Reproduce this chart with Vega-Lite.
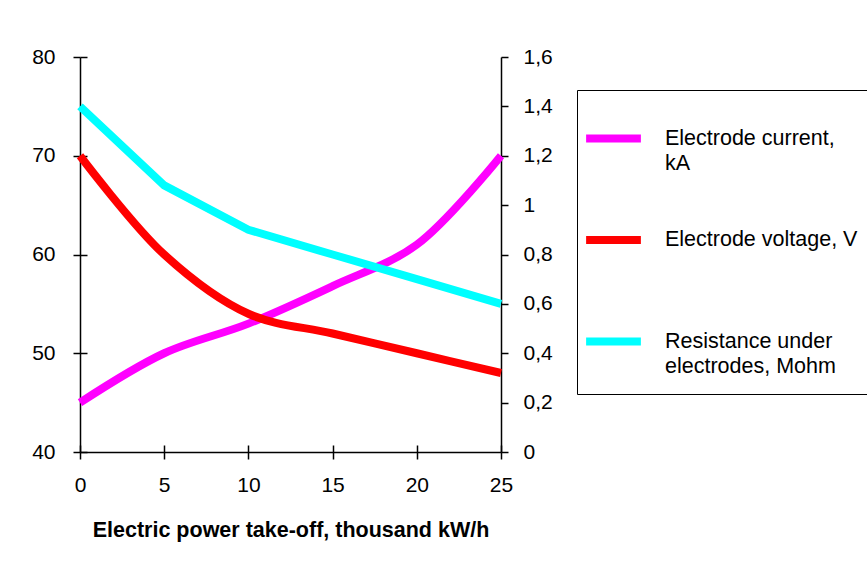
{
  "$schema": "https://vega.github.io/schema/vega-lite/v6.json",
  "width": 421,
  "height": 395,
  "autosize": {"type": "none"},
  "padding": {"left": 80, "top": 57, "right": 366, "bottom": 115},
  "background": "white",
  "config": {
    "view": {"stroke": null},
    "font": "Liberation Sans",
    "axis": {
      "domainColor": "black",
      "domainWidth": 1.5,
      "tickColor": "black",
      "tickWidth": 1.5,
      "labelColor": "black",
      "labelFont": "Liberation Sans",
      "labelFontSize": 21,
      "grid": false,
      "titleColor": "black",
      "titleFont": "Liberation Sans"
    },
    "style": {"guide-label": {"lineHeight": 25}}
  },
  "data": {
    "values": [
      {"x": 0, "series": "Electrode current, kA", "axis": "left", "value": 45},
      {"x": 5, "series": "Electrode current, kA", "axis": "left", "value": 50},
      {"x": 10, "series": "Electrode current, kA", "axis": "left", "value": 53},
      {"x": 15, "series": "Electrode current, kA", "axis": "left", "value": 56.8},
      {"x": 20, "series": "Electrode current, kA", "axis": "left", "value": 61},
      {"x": 25, "series": "Electrode current, kA", "axis": "left", "value": 70},
      {"x": 0, "series": "Electrode voltage, V", "axis": "left", "value": 70},
      {"x": 5, "series": "Electrode voltage, V", "axis": "left", "value": 60},
      {"x": 10, "series": "Electrode voltage, V", "axis": "left", "value": 54},
      {"x": 15, "series": "Electrode voltage, V", "axis": "left", "value": 52},
      {"x": 20, "series": "Electrode voltage, V", "axis": "left", "value": 50},
      {"x": 25, "series": "Electrode voltage, V", "axis": "left", "value": 48},
      {"x": 0, "series": "Resistance under electrodes, Mohm", "axis": "right", "value": 1.4},
      {"x": 5, "series": "Resistance under electrodes, Mohm", "axis": "right", "value": 1.08},
      {"x": 10, "series": "Resistance under electrodes, Mohm", "axis": "right", "value": 0.9},
      {"x": 15, "series": "Resistance under electrodes, Mohm", "axis": "right", "value": 0.8},
      {"x": 20, "series": "Resistance under electrodes, Mohm", "axis": "right", "value": 0.7},
      {"x": 25, "series": "Resistance under electrodes, Mohm", "axis": "right", "value": 0.6}
    ]
  },
  "layer": [
    {
      "transform": [{"filter": "datum.axis == 'left'"}],
      "mark": {"type": "line", "strokeWidth": 8, "interpolate": "catmull-rom"},
      "encoding": {
        "x": {
          "field": "x",
          "type": "quantitative",
          "scale": {"domain": [0, 25], "nice": false},
          "axis": {
            "orient": "bottom",
            "values": [0, 5, 10, 15, 20, 25],
            "tickSize": 7,
            "labelPadding": 15,
            "labelFlush": false,
            "title": "Electric power take-off, thousand kW/h",
            "titleFontSize": 21.5,
            "titleFontWeight": "bold",
            "titlePadding": 24
          }
        },
        "y": {
          "field": "value",
          "type": "quantitative",
          "scale": {"domain": [40, 80], "nice": false, "zero": false},
          "axis": {
            "orient": "left",
            "values": [40, 50, 60, 70, 80],
            "tickSize": 7,
            "labelPadding": 18,
            "title": null
          }
        },
        "color": {
          "field": "series",
          "type": "nominal",
          "scale": {
            "domain": ["Electrode current, kA", "Electrode voltage, V", "Resistance under electrodes, Mohm"],
            "range": ["#FF00FF", "#FF0000", "#00FFFF"]
          },
          "legend": {
            "orient": "none",
            "legendX": 497,
            "legendY": 33,
            "title": null,
            "strokeColor": "black",
            "fillColor": "white",
            "padding": 17,
            "symbolType": "stroke",
            "symbolStrokeWidth": 8,
            "symbolSize": 3000,
            "symbolOffset": -12,
            "labelFont": "Liberation Sans",
            "labelFontSize": 21.5,
            "labelColor": "black",
            "labelLimit": 400,
            "labelOffset": 20,
            "rowPadding": 34.5,
            "labelExpr": "datum.label == 'Electrode current, kA' ? ['Electrode current,', 'kA'] : datum.label == 'Resistance under electrodes, Mohm' ? ['Resistance under', 'electrodes, Mohm'] : [datum.label, '']"
          }
        }
      }
    },
    {
      "transform": [{"filter": "datum.axis == 'right'"}],
      "mark": {"type": "line", "strokeWidth": 8},
      "encoding": {
        "x": {"field": "x", "type": "quantitative", "axis": null},
        "y": {
          "field": "value",
          "type": "quantitative",
          "scale": {"domain": [0, 1.6], "nice": false},
          "axis": {
            "orient": "right",
            "values": [0, 0.2, 0.4, 0.6, 0.8, 1, 1.2, 1.4, 1.6],
            "tickSize": 7,
            "labelPadding": 15,
            "title": null,
            "labelExpr": "replace(toString(round(datum.value * 10) / 10), '.', ',')"
          }
        },
        "color": {"field": "series", "type": "nominal"}
      }
    },
    {
      "transform": [{"filter": "datum.axis == 'left'"}],
      "mark": {"type": "line", "opacity": 0},
      "encoding": {
        "x": {
          "field": "x",
          "type": "quantitative",
          "axis": {"orient": "bottom", "values": [0, 5, 10, 15, 20, 25], "offset": -7, "tickSize": 7, "labels": false, "domain": false, "title": null}
        },
        "y": {
          "field": "value",
          "type": "quantitative",
          "scale": {"domain": [40, 80], "nice": false, "zero": false},
          "axis": {"orient": "left", "values": [40, 50, 60, 70, 80], "offset": -7, "tickSize": 7, "labels": false, "domain": false, "title": null}
        },
        "detail": {"field": "series", "type": "nominal"}
      }
    }
  ],
  "resolve": {"scale": {"y": "independent"}, "axis": {"x": "independent", "y": "independent"}}
}
